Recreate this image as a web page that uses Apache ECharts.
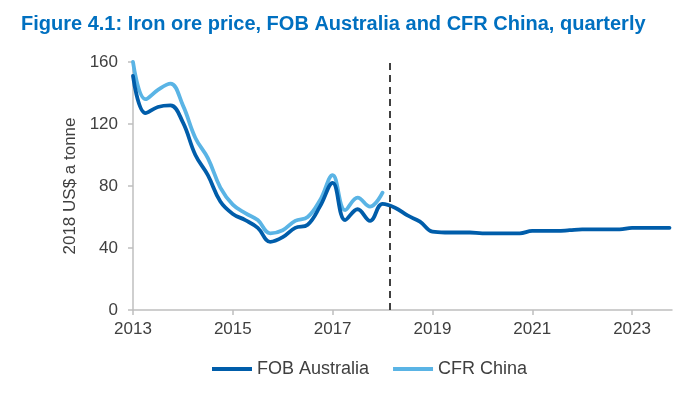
<!DOCTYPE html>
<html>
<head>
<meta charset="utf-8">
<script src="https://cdn.jsdelivr.net/npm/echarts@6/dist/echarts.min.js"></script>
<style>
html,body{margin:0;padding:0;background:#fff;}
#chart{width:697px;height:393px;}
</style>
</head>
<body>
<div id="chart"></div>
<script>
// Quarterly periods, 2013 Q1 .. 2023 Q4
const startYear = 2013;
const endYear = 2023;
const quarters = [];
for (let y = startYear; y <= endYear; y++) {
  for (let q = 0; q < 4; q++) quarters.push(y + q * 0.25);
}
// FOB Australia, 2018 US$ a tonne
const fobAustralia = [
  151, 127, 131, 132,
  121, 100, 87, 70,
  62, 58, 53, 44,
  47, 53, 55, 67,
  82, 58, 65, 57.5,
  68.5, 66, 61, 57,
  50.5, 50, 50, 50,
  49.5, 49.5, 49.5, 49.5,
  51, 51, 51, 51.5,
  52, 52, 52, 52,
  53, 53, 53, 53
];
// CFR China, 2018 US$ a tonne (history only)
const cfrChina = [
  160, 136, 142, 146,
  132, 111, 98, 79,
  68, 62.5, 58, 49.5,
  51.5, 57.5, 60, 71,
  87, 64.5, 72.5, 66.7,
  75.7
];
const yearTicks = [2013, 2015, 2017, 2019, 2021, 2023];
const forecastStart = 2018.15;

const fobData = fobAustralia.map((v, i) => [quarters[i], v]);
const cfrData = cfrChina.map((v, i) => [quarters[i], v]);

const chart = echarts.init(document.getElementById('chart'), null, {renderer: 'canvas'});
const textColor = '#404040';
const axisColor = '#bfbfbf';
const font = 'Liberation Sans, Arial, sans-serif';
chart.setOption({
  animation: false,
  backgroundColor: '#ffffff',
  title: {
    text: 'Figure 4.1: Iron ore price, FOB Australia and CFR China, quarterly',
    left: 16, top: 9,
    textStyle: {fontFamily: font, fontSize: 20, fontWeight: 'bold', color: '#0070c0'}
  },
  legend: {
    left: 212, top: 360, padding: 0,
    itemWidth: 40, itemHeight: 4, itemGap: 24,
    icon: 'rect',
    textStyle: {fontFamily: font, fontSize: 18, color: textColor},
    data: ['FOB Australia', 'CFR China']
  },
  grid: {left: 133, right: 25, top: 62, bottom: 83, containLabel: false},
  xAxis: {
    type: 'value', min: 2013, max: 2023.8,
    axisLine: {lineStyle: {color: axisColor, width: 1.5}},
    axisTick: {show: true, length: 5, lineStyle: {color: axisColor, width: 1.5}, customValues: yearTicks},
    axisLabel: {customValues: yearTicks, margin: 11, fontFamily: font, fontSize: 17, color: textColor, formatter: v => String(v)},
    splitLine: {show: false}
  },
  yAxis: {
    type: 'value', min: 0, max: 160, interval: 40,
    name: '2018 US$ a tonne', nameLocation: 'middle', nameGap: 53,
    nameTextStyle: {fontFamily: font, fontSize: 17, color: textColor},
    axisLine: {show: true, lineStyle: {color: axisColor, width: 1.5}},
    axisTick: {show: true, length: 5, lineStyle: {color: axisColor, width: 1.5}},
    axisLabel: {margin: 15, fontFamily: font, fontSize: 17, color: textColor},
    splitLine: {show: false}
  },
  series: [
    {
      name: 'FOB Australia', type: 'line', data: fobData, smooth: 0.4,
      showSymbol: false, symbol: 'none', z: 3,
      color: '#005daa',
      lineStyle: {width: 3.8, color: '#005daa', cap: 'round'},
      markLine: {
        silent: true, symbol: 'none', label: {show: false},
        lineStyle: {type: [7, 5], color: '#404040', width: 2},
        data: [[{coord: [forecastStart, 0]}, {coord: [forecastStart, 160]}]]
      }
    },
    {
      name: 'CFR China', type: 'line', data: cfrData, smooth: 0.4,
      showSymbol: false, symbol: 'none', z: 2,
      color: '#5ab4e5',
      lineStyle: {width: 3.8, color: '#5ab4e5', cap: 'round'}
    }
  ]
});
</script>
</body>
</html>
